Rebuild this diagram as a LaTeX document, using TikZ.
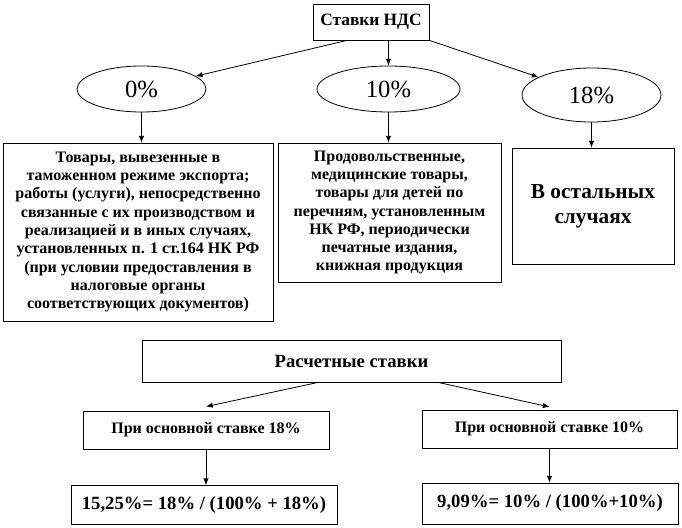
\documentclass[tikz,border=0pt]{standalone}
\usepackage{fontspec}
\setmainfont{Liberation Serif}
\usetikzlibrary{shapes.geometric,arrows.meta}

\begin{document}
\begin{tikzpicture}[x=0.75pt,y=-0.75pt,line width=0.6pt,
    >={Latex[length=5pt,width=4pt]},
    box/.style={draw,rectangle,inner sep=0pt,align=center,
      font=\bfseries\fontsize{12}{13.7}\selectfont},
    rate/.style={draw,ellipse,inner sep=0pt,minimum height=34.5pt,
      font=\fontsize{18.5}{20}\selectfont}]
   \def\Yhead{22}
   \def\Yrate{89}
   \def\Ycalc{361}
   \def\Ybase{430}
   \def\Yres{505}

   \useasboundingbox (0,0) rectangle (682,528);

   % top part
   \node[box,minimum width=87pt,minimum height=27pt,font=\bfseries\fontsize{13}{15}\selectfont]
      (vat) at (371,\Yhead) {Ставки НДС};
   \node[rate,minimum width=96.75pt] (zero) at (141.5,\Yrate) {0\%};
   \node[rate,minimum width=107.25pt] (ten) at (388.5,\Yrate) {10\%};
   \node[rate,minimum width=104.25pt,minimum height=40.5pt] (eighteen) at (591.5,95) {18\%};

   \node[box,minimum width=202.5pt,minimum height=133.5pt] (zerobox) at (138,232)
      {Товары, вывезенные в\\ таможенном режиме экспорта;\\ работы (услуги), непосредственно\\
       связанные с их производством и\\ реализацией и в иных случаях,\\
       установленных п. 1 ст.164 НК РФ\\ (при условии предоставления в\\
       налоговые органы\\ соответствующих документов)};
   \node[box,minimum width=167.25pt,minimum height=104.25pt] (tenbox) at (389.5,212.5)
      {Продовольственные,\\ медицинские товары,\\ товары для детей по\\
       перечням, установленным\\ НК РФ, периодически\\ печатные издания,\\ книжная продукция};
   \node[box,minimum width=121.5pt,minimum height=87pt,font=\bfseries\fontsize{16}{18.5}\selectfont]
      (restbox) at (593,206) {В остальных\\ случаях};

   % arrows
   \draw[->] ([xshift=-18pt]vat.south) -- (zero);
   \draw[->] (ten.north |- vat.south) -- (ten.north);
   \draw[->] (vat.south east) -- (eighteen);
   \draw[->] (zero.south) -- (zero.south |- zerobox.north);
   \draw[->] (ten.south) -- (ten.south |- tenbox.north);
   \draw[->] (eighteen.south) -- (eighteen.south |- restbox.north);

   % bottom part
   \node[box,minimum width=314.25pt,minimum height=31.5pt,font=\bfseries\fontsize{14}{16}\selectfont]
      (calc) at (351.5,\Ycalc) {Расчетные ставки};
   \node[box,minimum width=184.5pt,minimum height=28.5pt,font=\bfseries\fontsize{12}{14}\selectfont]
      (base18) at (206,\Ybase) {При основной ставке 18\%};
   \node[box,minimum width=191.25pt,minimum height=28.5pt,font=\bfseries\fontsize{12}{14}\selectfont]
      (base10) at (549.5,429) {При основной ставке 10\%};
   \node[box,minimum width=199.5pt,minimum height=29.25pt,font=\bfseries\fontsize{14}{16}\selectfont]
      (res18) at (204,\Yres) {15,25\%= 18\% / (100\% + 18\%)};
   \node[box,minimum width=192pt,minimum height=30.75pt,font=\bfseries\fontsize{14}{16}\selectfont]
      (res10) at (550,503.5) {9,09\%= 10\% / (100\%+10\%)};

   % arrows
   \draw[->] ([xshift=-25pt]calc.south) -- ([yshift=3pt]base18.north);
   \draw[->] ([xshift=65pt]calc.south) -- ([yshift=2pt]base10.north);
   \draw[->] (base18.south) -- (base18.south |- res18.north);
   \draw[->] (base10.south) -- (base10.south |- res10.north);
\end{tikzpicture}
\end{document}
